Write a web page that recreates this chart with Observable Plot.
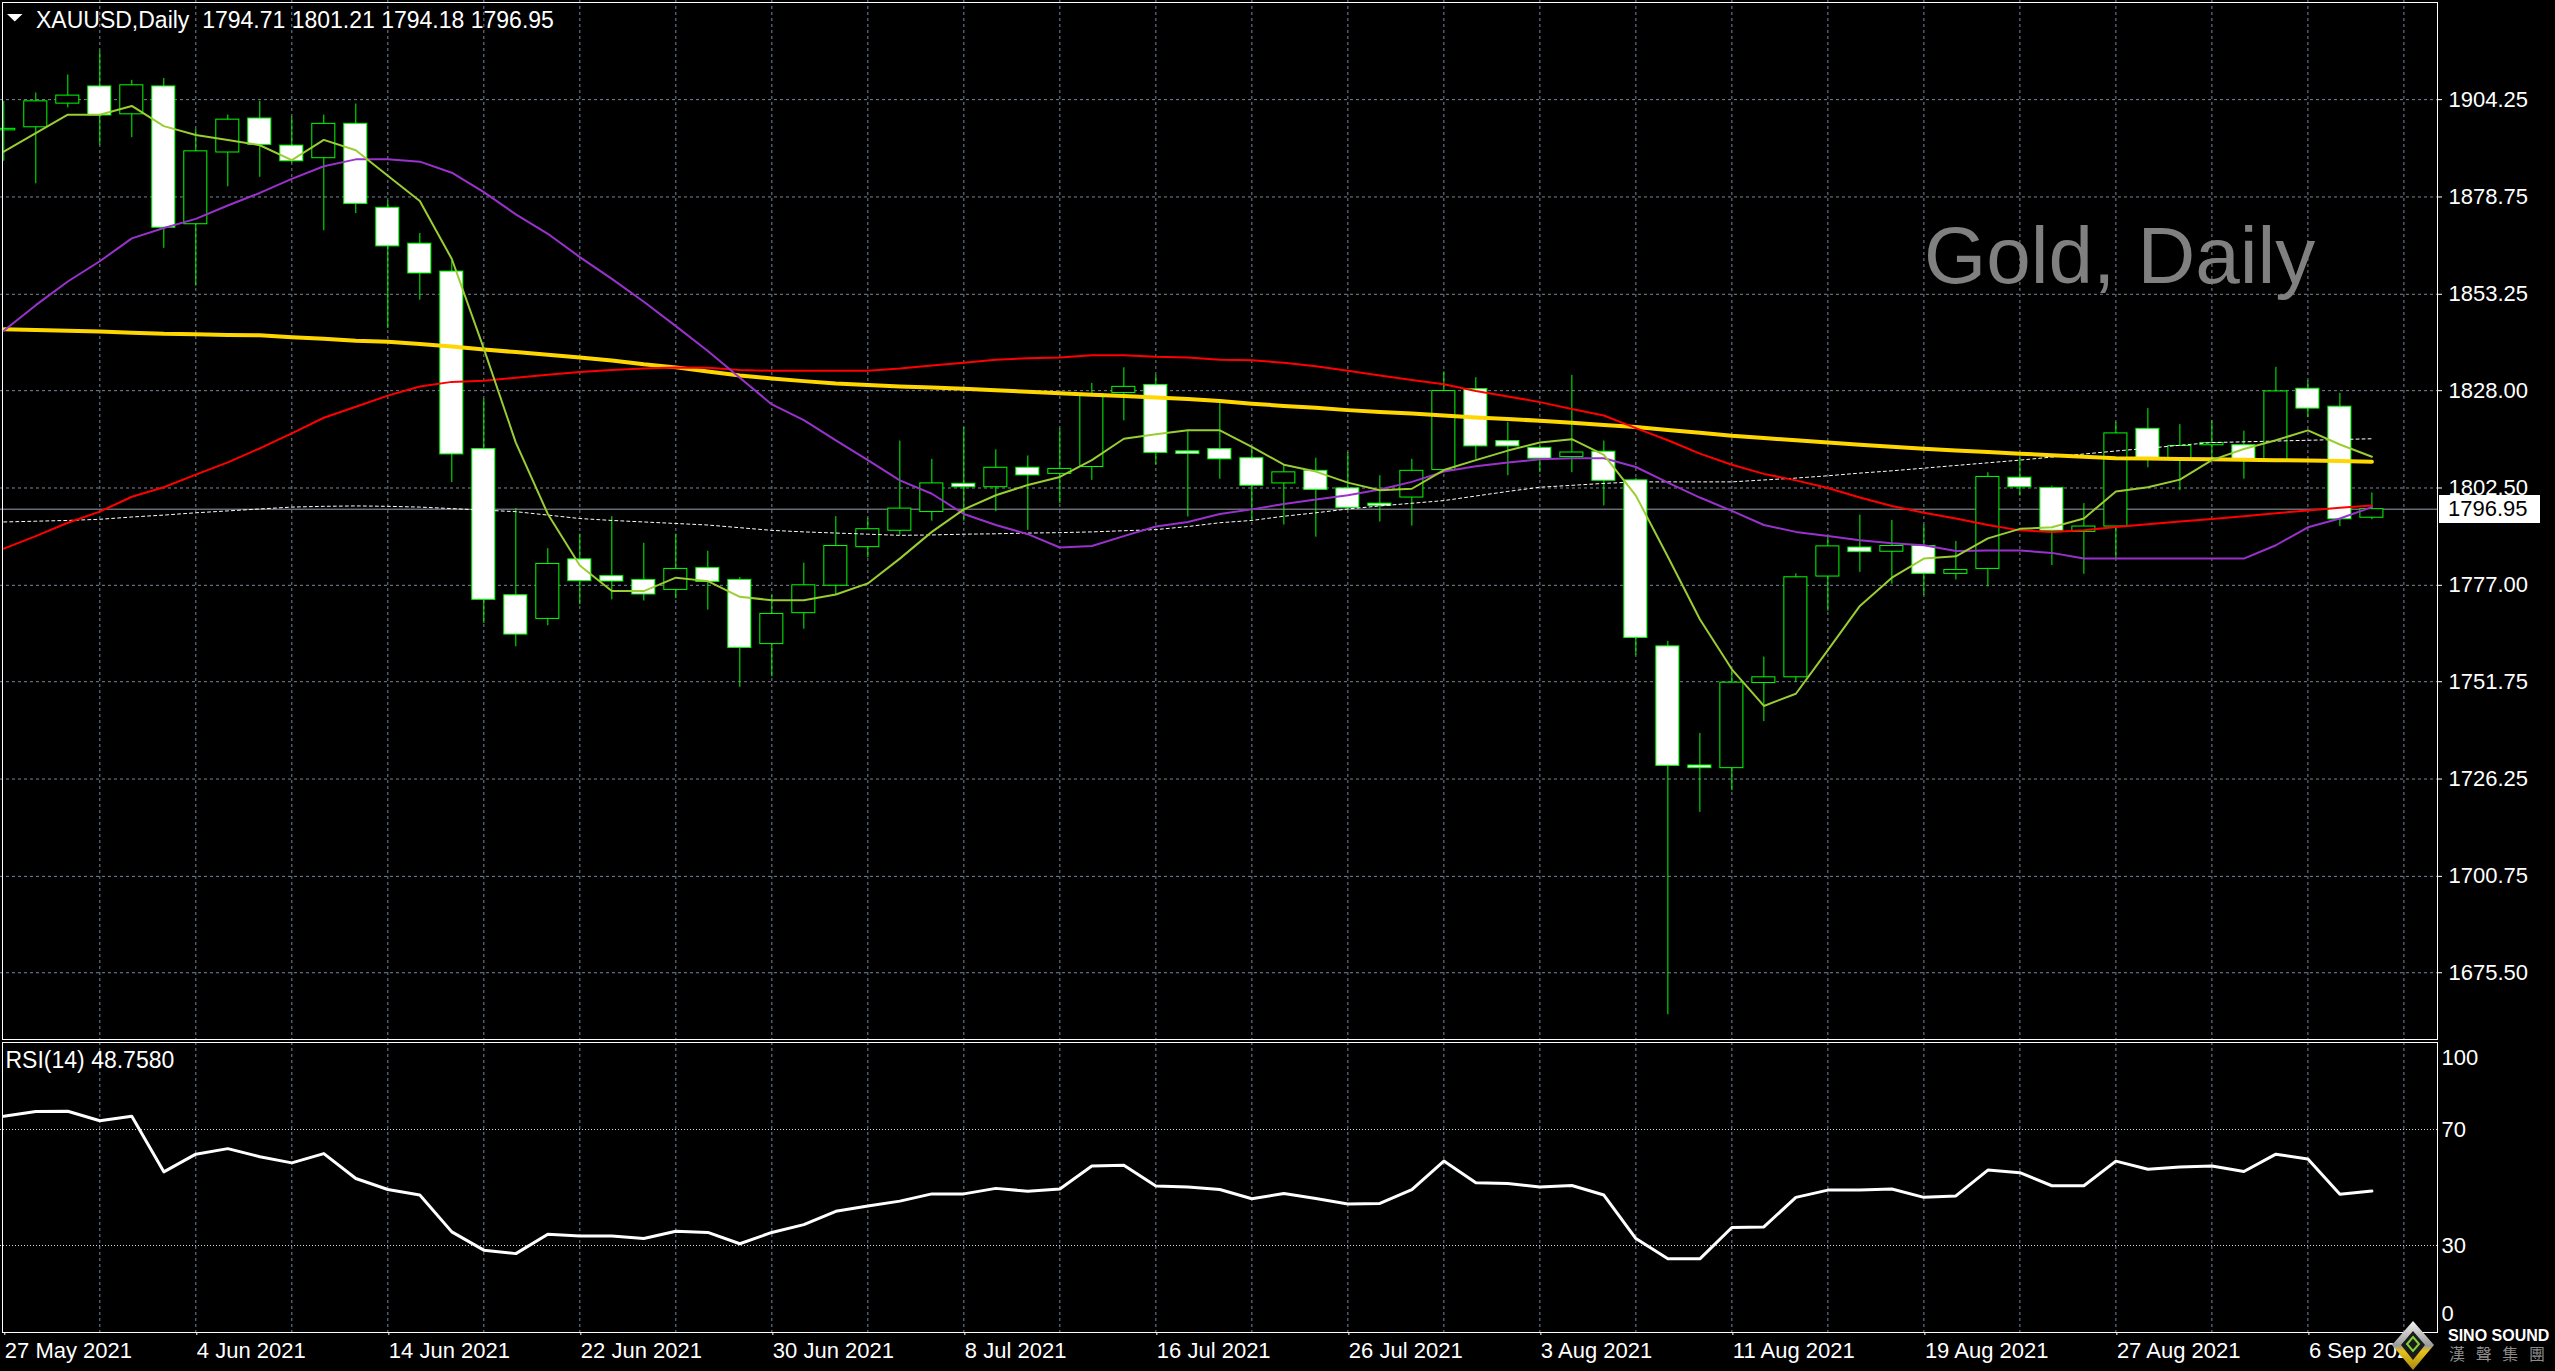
<!DOCTYPE html>
<html><head><meta charset="utf-8">
<script src="https://cdn.jsdelivr.net/npm/d3@7"></script>
<script src="https://cdn.jsdelivr.net/npm/@observablehq/plot@0.6"></script>
<style>
html,body{margin:0;padding:0;background:#000;}
#wrap{position:relative;width:2555px;height:1371px;background:#000;overflow:hidden;font-family:"Liberation Sans",Arial,sans-serif;}
</style></head><body><div id="wrap"></div>
<script>
// ---------- DATA ----------
const symbol = "XAUUSD,Daily";
const watermark = "Gold, Daily";
const opens = [1896.2,1897.0,1903.2,1907.7,1900.4,1907.7,1871.6,1890.4,1899.3,1892.2,
1888.9,1897.9,1875.9,1866.5,1859.2,1812.7,1774.4,1768.2,1783.8,1779.4,
1778.4,1775.8,1781.5,1778.4,1761.6,1769.7,1776.9,1787.0,1791.3,1796.2,
1803.6,1802.7,1807.8,1806.2,1808.0,1827.4,1829.5,1812.1,1812.7,1810.3,
1803.7,1807.0,1802.4,1798.4,1800.0,1807.2,1828.4,1814.8,1813.0,1810.6,
1812.0,1804.5,1761.0,1729.8,1729.1,1751.4,1752.9,1779.3,1786.9,1785.8,
1787.3,1780.0,1781.3,1805.2,1802.5,1791.0,1792.4,1818.0,1809.8,1813.7,
1813.7,1809.8,1828.5,1823.8,1794.71];
const highs = [1903.8,1906.0,1910.7,1917.0,1909.3,1909.8,1896.4,1900.2,1903.8,1899.7,
1900.2,1903.1,1877.7,1869.2,1861.9,1825.8,1797.1,1786.6,1790.4,1795.0,
1788.0,1790.4,1785.9,1779.0,1774.3,1782.8,1795.0,1794.5,1814.8,1810.0,
1818.3,1812.5,1810.9,1818.0,1829.9,1834.0,1832.0,1817.4,1825.3,1813.3,
1808.6,1810.3,1811.8,1805.7,1810.0,1832.9,1831.4,1819.7,1813.5,1832.0,
1814.8,1805.0,1762.3,1738.2,1754.9,1758.2,1780.0,1789.9,1795.4,1794.0,
1792.8,1788.5,1806.5,1810.3,1803.0,1798.4,1819.7,1823.3,1819.1,1820.1,
1817.4,1834.1,1830.6,1827.3,1801.21];
const lows = [1888.1,1882.2,1902.1,1892.3,1894.3,1865.3,1855.4,1881.4,1883.9,1887.6,
1869.9,1874.4,1844.3,1851.7,1803.9,1767.0,1760.9,1766.4,1771.9,1773.2,
1772.9,1773.5,1770.5,1750.3,1753.0,1765.5,1774.6,1784.2,1790.1,1793.8,
1793.8,1796.3,1791.4,1798.4,1804.5,1820.1,1808.6,1794.9,1804.8,1794.0,
1792.8,1789.6,1796.9,1793.6,1792.5,1807.0,1810.0,1805.7,1806.5,1806.5,
1797.8,1758.6,1664.5,1717.5,1723.2,1741.3,1751.6,1770.2,1780.4,1777.3,
1774.3,1778.4,1776.6,1800.4,1782.2,1779.9,1783.8,1807.8,1801.8,1809.8,
1804.8,1809.5,1820.9,1792.4,1794.18];
const closes = [1896.6,1903.8,1905.3,1900.1,1908.0,1870.7,1890.7,1899.0,1892.4,1888.1,
1897.9,1876.9,1865.8,1858.7,1811.3,1773.2,1764.1,1782.6,1778.1,1778.0,
1774.6,1781.3,1777.9,1760.6,1769.5,1777.0,1787.3,1791.7,1797.1,1803.7,
1802.7,1807.8,1805.8,1807.5,1827.1,1829.0,1811.7,1811.4,1810.0,1803.1,
1806.6,1802.0,1797.3,1797.8,1807.0,1827.9,1813.4,1813.4,1810.2,1811.8,
1804.4,1763.2,1729.7,1729.1,1751.5,1752.9,1779.1,1787.2,1785.7,1787.3,
1780.0,1781.0,1805.4,1802.7,1791.3,1792.4,1816.8,1810.1,1813.5,1814.3,
1809.8,1827.8,1823.3,1794.3,1796.95];
// moving averages (yellow-green, purple, red, gold, white dotted)
const maFast = [1890.6,1895.5,1900.3,1900.3,1902.6,1897.3,1895.0,1893.7,1892.3,1888.4,
1893.7,1891.0,1884.3,1877.7,1862.5,1839.0,1814.4,1795.7,1782.2,1775.5,
1775.5,1779.0,1778.1,1774.0,1773.1,1773.1,1774.6,1777.5,1784.0,1791.0,
1796.9,1800.6,1803.3,1805.4,1809.8,1815.4,1816.6,1817.6,1817.6,1813.3,
1808.6,1806.8,1803.9,1801.9,1802.3,1807.2,1809.8,1812.3,1814.4,1815.3,
1811.2,1800.5,1784.5,1768.1,1755.0,1745.4,1748.6,1760.0,1771.6,1779.0,
1784.0,1784.6,1789.3,1791.8,1792.2,1794.5,1801.6,1802.7,1804.7,1809.8,
1812.7,1815.0,1817.6,1813.9,1810.7];
const maMid = [1843.7,1850.4,1856.6,1861.9,1867.9,1870.6,1873.0,1876.5,1879.8,1883.5,
1886.8,1888.6,1888.6,1888.0,1885.1,1880.0,1874.2,1869.1,1863.0,1857.3,
1851.3,1844.9,1838.4,1831.4,1824.4,1820.3,1815.0,1809.8,1804.5,1801.0,
1795.7,1792.8,1790.4,1786.9,1787.3,1789.9,1792.4,1793.6,1795.7,1796.9,
1798.3,1799.5,1800.6,1802.1,1804.1,1806.8,1808.2,1809.2,1810.0,1810.3,
1810.3,1808.0,1803.9,1800.0,1796.5,1792.8,1791.0,1789.9,1788.8,1788.0,
1787.5,1786.0,1786.1,1786.1,1785.5,1784.0,1784.0,1784.0,1784.0,1784.0,
1784.0,1787.5,1792.2,1794.5,1797.5];
const maRed = [1786.6,1789.9,1793.4,1796.3,1800.2,1802.7,1806.0,1809.2,1812.9,1816.8,
1820.9,1823.8,1826.7,1829.1,1830.3,1830.6,1831.4,1832.2,1832.9,1833.4,
1833.8,1834.1,1834.0,1833.4,1833.2,1833.2,1833.2,1833.2,1833.8,1834.6,
1835.3,1836.1,1836.5,1836.7,1837.3,1837.3,1836.9,1836.7,1836.1,1836.0,
1835.3,1834.4,1833.2,1832.0,1830.8,1829.7,1827.9,1826.5,1825.0,1823.2,
1821.5,1818.2,1815.0,1811.5,1808.6,1806.2,1804.5,1802.5,1800.0,1797.8,
1796.0,1794.5,1792.8,1791.4,1791.0,1791.4,1792.3,1793.0,1793.7,1794.4,
1795.1,1795.9,1796.6,1797.3,1797.9];
const maGold = [1844.1,1843.9,1843.7,1843.5,1843.2,1842.9,1842.8,1842.6,1842.5,1842.0,
1841.6,1841.1,1840.8,1840.2,1839.6,1838.8,1838.1,1837.4,1836.7,1835.9,
1834.9,1834.1,1833.0,1832.0,1831.2,1830.5,1829.9,1829.5,1829.1,1828.8,
1828.5,1828.1,1827.7,1827.3,1826.9,1826.6,1826.2,1825.8,1825.3,1824.6,
1824.0,1823.5,1822.9,1822.4,1822.0,1821.5,1821.0,1820.6,1820.1,1819.6,
1819.0,1818.5,1817.7,1817.0,1816.2,1815.6,1815.0,1814.4,1813.8,1813.3,
1812.8,1812.3,1811.9,1811.5,1811.1,1810.7,1810.3,1810.2,1810.1,1810.0,
1809.9,1809.8,1809.7,1809.6,1809.4];
const maDots = [1793.6,1793.8,1794.0,1794.3,1794.9,1795.4,1796.0,1796.5,1797.0,1797.5,
1797.7,1797.8,1797.7,1797.5,1797.1,1796.7,1796.3,1795.4,1794.5,1794.0,
1793.6,1793.2,1792.8,1792.1,1791.4,1791.0,1790.7,1790.4,1790.1,1790.2,
1790.4,1790.5,1790.7,1790.8,1791.0,1791.3,1791.6,1792.4,1793.4,1794.0,
1795.1,1796.0,1797.0,1797.8,1798.5,1799.2,1800.4,1801.6,1802.7,1803.2,
1803.7,1804.1,1804.1,1804.1,1804.1,1804.6,1805.1,1805.7,1806.4,1807.0,
1807.7,1808.4,1809.1,1809.8,1810.6,1811.4,1812.2,1812.9,1813.7,1814.4,
1814.6,1814.8,1815.0,1815.2,1815.4];
const rsi = [74.6,76.2,76.3,73.0,74.6,55.4,61.5,63.4,60.6,58.5,
61.7,53.1,49.3,47.4,34.7,28.4,27.2,33.9,33.3,33.3,
32.4,34.9,34.5,30.6,34.5,37.2,41.8,43.6,45.3,47.8,
47.8,49.7,48.7,49.5,57.4,57.7,50.5,50.2,49.3,46.1,
47.9,46.2,44.3,44.5,49.3,59.1,51.6,51.4,50.2,50.7,
47.4,32.4,25.4,25.4,36.2,36.4,46.6,49.1,49.1,49.5,
46.6,47.1,56.0,55.1,50.6,50.6,59.1,56.3,57.1,57.4,
55.5,61.5,59.8,47.7,48.758];
const priceTicks = [1904.25,1878.75,1853.25,1828.00,1802.50,1777.00,1751.75,1726.25,1700.75,1675.50];
const rsiLevels = [70, 30];
const rsiTop = [100], rsiBottom = [0];
const dateIdx = [0,6,12,18,24,30,36,42,48,54,60,66,72];
const dateLabels = ["27 May 2021","4 Jun 2021","14 Jun 2021","22 Jun 2021","30 Jun 2021","8 Jul 2021",
"16 Jul 2021","26 Jul 2021","3 Aug 2021","11 Aug 2021","19 Aug 2021","27 Aug 2021","6 Sep 2021"];
const gridIdx = [3,6,9,12,15,18,21,24,27,30,33,36,39,42,45,48,51,54,57,60,63,66,69,72,75];

// ---------- LAYOUT ----------
const W = 2555, MR = 118, PH = 1039, RH = 331;
const FONT = "Liberation Sans, Arial, sans-serif";
const xDomain = [-0.103, 76.05];
const n = closes.length;
const bars = closes.map((c, i) => ({i, o: opens[i], h: highs[i], l: lows[i], c}));
const last = bars[n - 1];
const GRID = "#778899";
const LIME = "#00ff00";

const priceChart = Plot.plot({
  width: W, height: PH,
  marginLeft: 0, marginRight: MR, marginTop: 0, marginBottom: 0,
  style: {background: "transparent", color: "#fff", fontFamily: FONT, fontSize: "22px", overflow: "visible"},
  x: {domain: xDomain, axis: null},
  y: {domain: [1658.01, 1930.22], axis: null},
  marks: [
    Plot.ruleY(priceTicks, {stroke: GRID, strokeDasharray: "3,3", strokeWidth: 1}),
    Plot.ruleX(gridIdx, {stroke: GRID, strokeDasharray: "3,3", strokeWidth: 1}),
    Plot.ruleY([last.c], {stroke: "#9aa3ad", strokeWidth: 1}),
    Plot.ruleX(bars, {x: "i", y1: "l", y2: "h", stroke: LIME, strokeWidth: 1}),
    Plot.rect(bars, {x1: d => d.i - 0.36, x2: d => d.i + 0.36, y1: "o", y2: "c",
      fill: d => d.c < d.o ? "#ffffff" : "#000000", stroke: LIME, strokeWidth: 1}),
    Plot.line(maDots, {x: (d, i) => i, y: d => d, stroke: "#ffffff", strokeWidth: 1, strokeDasharray: "3,3"}),
    Plot.line(maGold, {x: (d, i) => i, y: d => d, stroke: "#ffd700", strokeWidth: 4}),
    Plot.line(maRed, {x: (d, i) => i, y: d => d, stroke: "#ff0000", strokeWidth: 2}),
    Plot.line(maMid, {x: (d, i) => i, y: d => d, stroke: "#9932cc", strokeWidth: 2}),
    Plot.line(maFast, {x: (d, i) => i, y: d => d, stroke: "#9acd32", strokeWidth: 2}),
    Plot.axisY({anchor: "right", ticks: priceTicks, tickFormat: d => d.toFixed(2), tickSize: 4, tickPadding: 7,
      stroke: "#fff", fill: "#fff", fontSize: 22, textAnchor: "start"}),
    Plot.frame({stroke: "#fff", strokeWidth: 1, insetLeft: 2, insetTop: 2})
  ]
});

const rsiLabel = "RSI(14) " + rsi[n - 1].toFixed(4);
const rsiChart = Plot.plot({
  width: W, height: RH,
  marginLeft: 0, marginRight: MR, marginTop: 2, marginBottom: 39,
  style: {background: "transparent", color: "#fff", fontFamily: FONT, fontSize: "22px", overflow: "visible"},
  x: {domain: xDomain, axis: null},
  y: {domain: [0, 100], axis: null},
  marks: [
    Plot.ruleX(gridIdx, {stroke: GRID, strokeDasharray: "3,3", strokeWidth: 1}),
    Plot.ruleY(rsiLevels, {stroke: "#d8d8d8", strokeDasharray: "1,2", strokeWidth: 1}),
    Plot.line(rsi, {x: (d, i) => i, y: d => d, stroke: "#ffffff", strokeWidth: 3}),
    Plot.frame({stroke: "#fff", strokeWidth: 1, insetLeft: 2}),
    Plot.axisX({anchor: "bottom", ticks: dateIdx, tickFormat: d => dateLabels[dateIdx.indexOf(d)],
      tickSize: 3, tickPadding: 7, textAnchor: "start", dx: 1, stroke: "#fff", fill: "#fff", fontSize: 22}),
    Plot.text(rsiLevels, {frameAnchor: "right", y: d => d, text: d => String(d), dx: 4, textAnchor: "start", fill: "#fff", fontSize: 22}),
    Plot.text(rsiTop, {frameAnchor: "right", y: d => d, text: d => String(d), dx: 4, dy: 15, textAnchor: "start", fill: "#fff", fontSize: 22}),
    Plot.text(rsiBottom, {frameAnchor: "right", y: d => d, text: d => String(d), dx: 4, dy: -19, textAnchor: "start", fill: "#fff", fontSize: 22}),
    Plot.text([rsiLabel], {frameAnchor: "top-left", dx: 5, dy: 9, lineAnchor: "top", textAnchor: "start", fill: "#fff", fontSize: 23})
  ]
});

const wrap = document.getElementById("wrap");
priceChart.style.position = "absolute"; priceChart.style.left = "0px"; priceChart.style.top = "0px";
rsiChart.style.position = "absolute"; rsiChart.style.left = "0px"; rsiChart.style.top = "1040px";
wrap.appendChild(priceChart);
wrap.appendChild(rsiChart);

// current price label box, positioned with the chart's own y scale
const yPos = priceChart.scale("y").apply(last.c);
const box = document.createElement("div");
box.textContent = last.c.toFixed(2);
Object.assign(box.style, {position: "absolute", left: "2439px", top: (yPos - 14) + "px", width: "92px", height: "28px",
  lineHeight: "28px", paddingLeft: "9px", background: "#fff", color: "#000", fontSize: "22px", fontFamily: FONT});
wrap.appendChild(box);

// overlay: header, watermark, logo
const header = symbol + "  " + [last.o, last.h, last.l, last.c].map(v => v.toFixed(2)).join(" ");
const ov = d3.select(wrap).append("svg")
  .attr("width", W).attr("height", 1371)
  .style("position", "absolute").style("left", "0px").style("top", "0px")
  .attr("font-family", FONT);
ov.append("polygon").attr("points", "7,14 22.5,14 14.75,21.5").attr("fill", "#fff");
ov.append("text").attr("x", 36).attr("y", 27.5).attr("font-size", 23).attr("fill", "#fff")
  .style("white-space", "pre").text(header);
ov.append("text").attr("x", 1924).attr("y", 282.5).attr("font-size", 80).attr("fill", "#808080").text(watermark);

// logo
const defs = ov.append("defs");
const g1 = defs.append("linearGradient").attr("id", "lg").attr("x1", 0).attr("y1", 0).attr("x2", 0).attr("y2", 1);
g1.append("stop").attr("offset", "0%").attr("stop-color", "#f4f4f4");
g1.append("stop").attr("offset", "50%").attr("stop-color", "#9a9a9a");
g1.append("stop").attr("offset", "62%").attr("stop-color", "#e8c21a");
g1.append("stop").attr("offset", "100%").attr("stop-color", "#a88a10");
const lg = ov.append("g");
lg.append("polygon").attr("points", "2413,1321 2434,1345 2413,1370 2392,1345").attr("fill", "url(#lg)");
lg.append("polygon").attr("points", "2413,1331 2425,1345 2413,1360 2401,1345").attr("fill", "#1a1a1a");
lg.append("polygon").attr("points", "2413,1337 2419,1344 2413,1351 2407,1344").attr("fill", "none").attr("stroke", "#7fd23a").attr("stroke-width", 2);
ov.append("text").attr("x", 2448).attr("y", 1341).attr("font-size", 16).attr("font-weight", "bold")
  .attr("fill", "#fff").text("SINO SOUND");
ov.append("text").attr("x", 2449).attr("y", 1360).attr("font-size", 16)
  .attr("font-family", "Noto Sans CJK TC, Noto Sans CJK SC, sans-serif")
  .attr("fill", "#8c8c8c").attr("textLength", 96).attr("lengthAdjust", "spacing").text("漢聲集團");
</script>
</body></html>
